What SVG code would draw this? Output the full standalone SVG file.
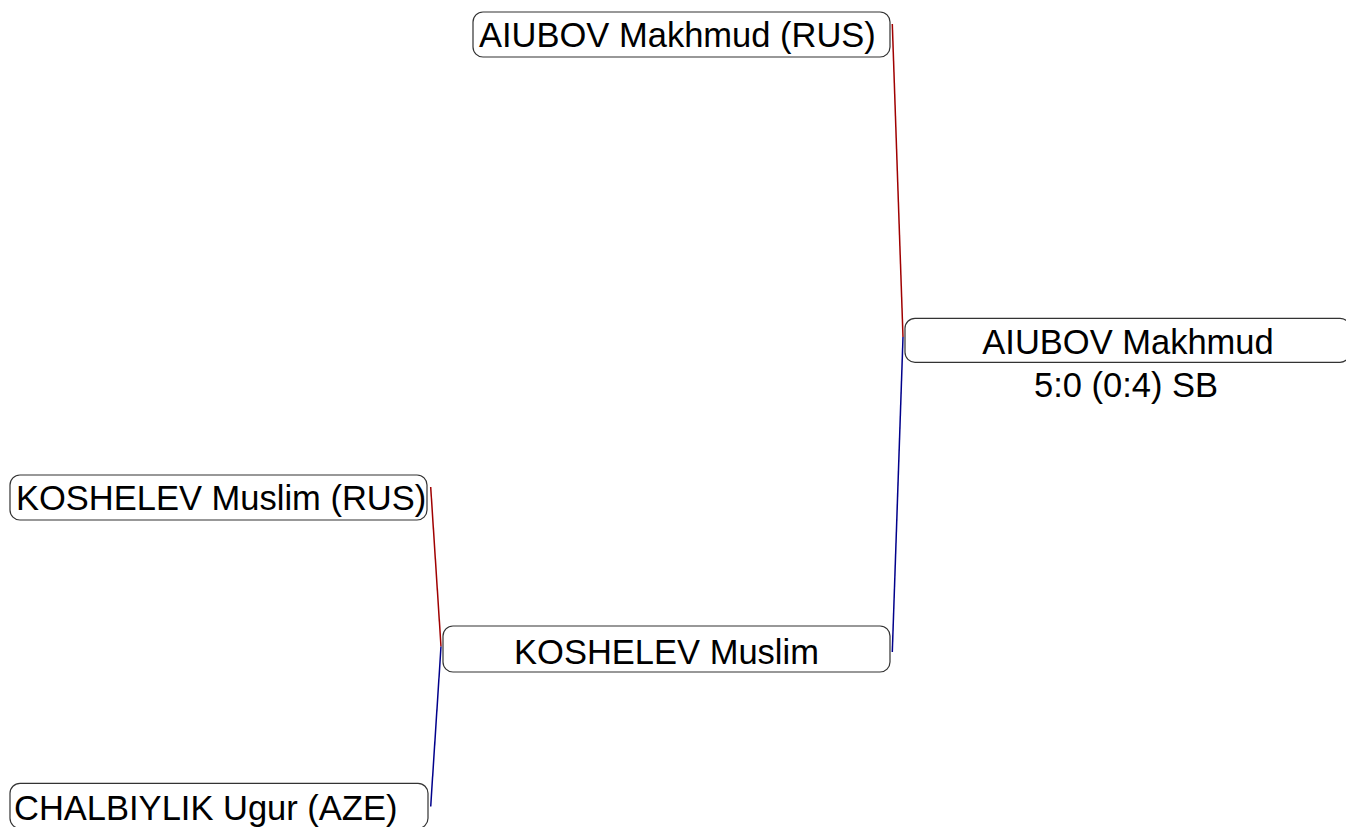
<svg xmlns="http://www.w3.org/2000/svg" width="1346" height="827" viewBox="0 0 1346 827">
<style>
.box{fill:#fff;stroke:#333;stroke-width:1.2}
.t{font-family:"Liberation Sans",Arial,sans-serif;font-size:34.5px;fill:#000}
.c{text-anchor:middle}
.red{stroke:#a00000;stroke-width:1.5;fill:none}
.blue{stroke:#00008b;stroke-width:1.5;fill:none}
</style>
<rect width="1346" height="827" fill="#fff"/>
<g id="connectors">
<line class="red" x1="430.7" y1="487" x2="441" y2="646.5"/>
<line class="blue" x1="441" y1="646.5" x2="430.7" y2="806.5"/>
<line class="red" x1="892.3" y1="24" x2="903" y2="337"/>
<line class="blue" x1="903" y1="337" x2="892.3" y2="652"/>
</g>
<g id="n1">
<rect class="box" x="473" y="12" width="417" height="45" rx="10"/>
<text class="t" x="479" y="47">AIUBOV Makhmud (RUS)</text>
</g>
<g id="n2">
<rect class="box" x="905" y="318.3" width="445" height="44" rx="10"/>
<text class="t c" x="1128" y="354">AIUBOV Makhmud</text>
<text class="t c" x="1126" y="396.5">5:0 (0:4) SB</text>
</g>
<g id="n3">
<rect class="box" x="10" y="475" width="417" height="45" rx="10"/>
<text class="t" x="16" y="509.5">KOSHELEV Muslim (RUS)</text>
</g>
<g id="n4">
<rect class="box" x="10" y="783.3" width="418" height="45" rx="10"/>
<text class="t" x="14" y="820">CHALBIYLIK Ugur (AZE)</text>
</g>
<g id="n5">
<rect class="box" x="443" y="626" width="447" height="46" rx="10"/>
<text class="t c" x="666.5" y="664">KOSHELEV Muslim</text>
</g>
</svg>
